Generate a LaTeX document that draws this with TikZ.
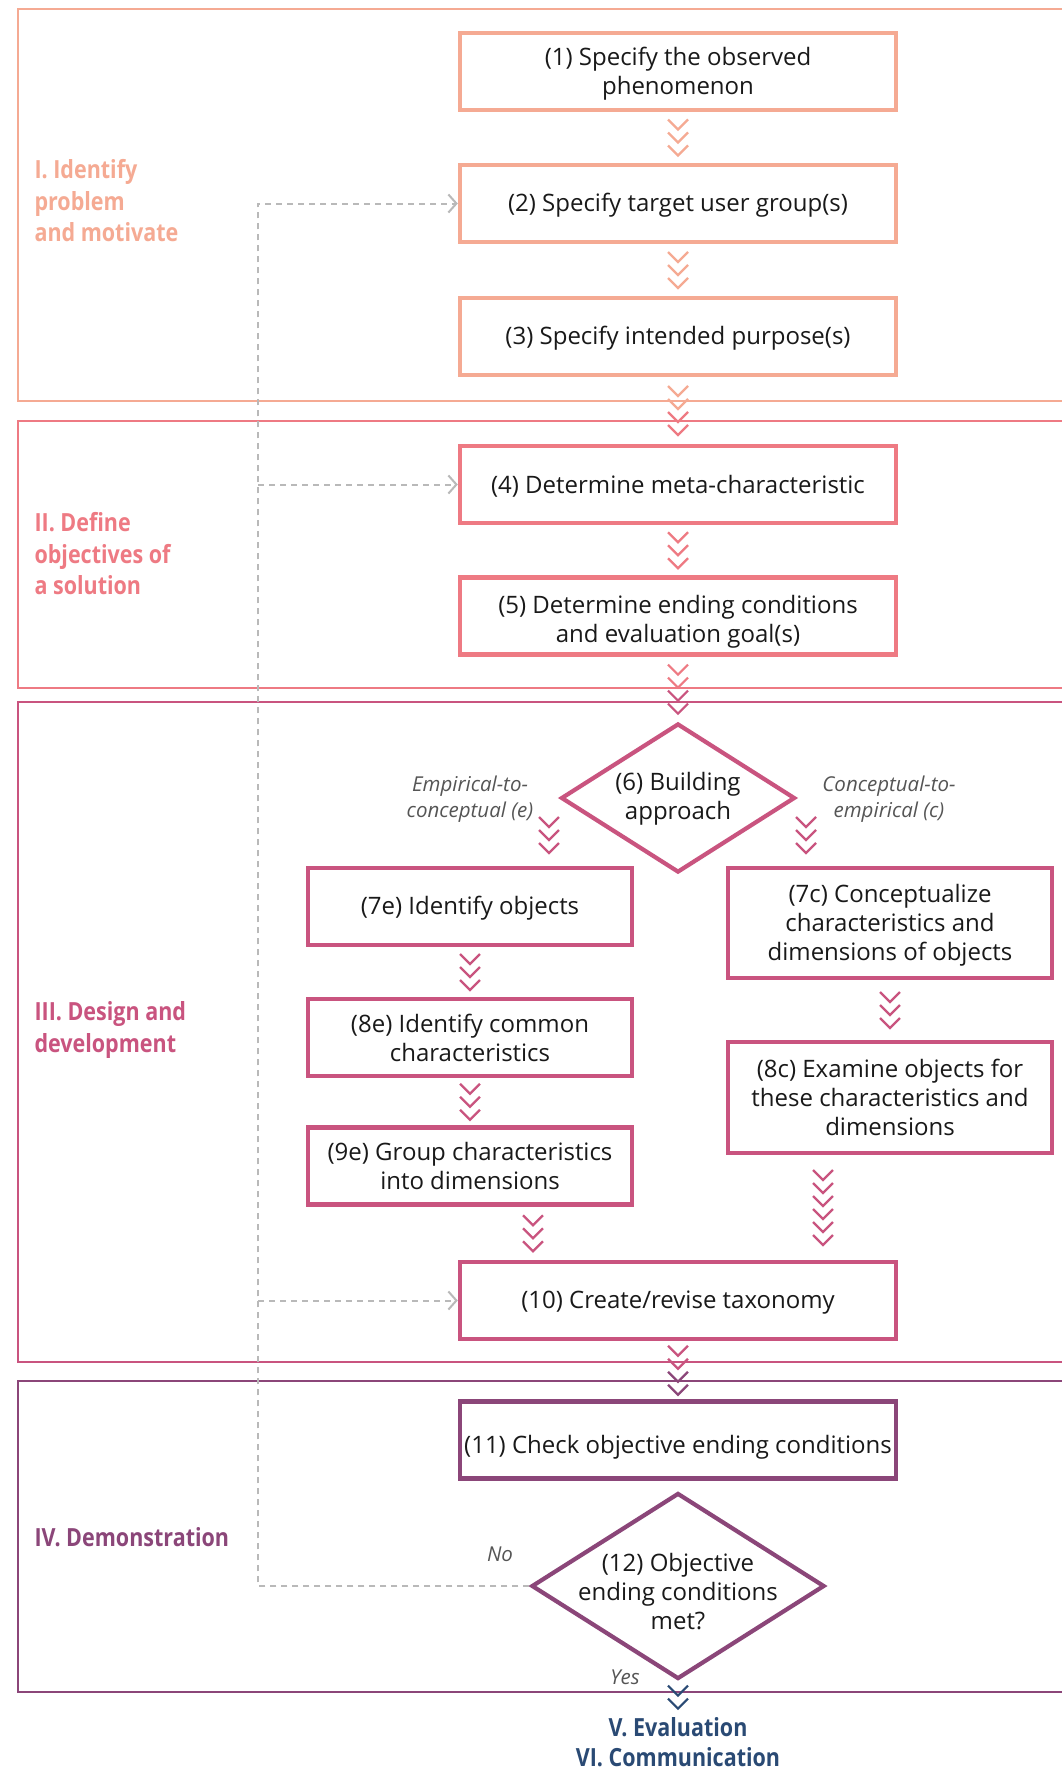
\documentclass[tikz,border=0pt]{standalone}
\usepackage{fontspec}
\setmainfont{Open Sans}
\newfontfamily\condfont[FakeStretch=0.86]{Open Sans}
\usetikzlibrary{calc,arrows.meta,shapes.geometric}
\definecolor{cI}{RGB}{245,170,147}
\definecolor{cII}{RGB}{238,122,131}
\definecolor{cIII}{RGB}{201,84,127}
\definecolor{cIV}{RGB}{139,70,121}
\definecolor{cV}{RGB}{42,74,116}
\definecolor{fbgray}{RGB}{185,185,185}
\definecolor{txt}{RGB}{25,25,25}
\definecolor{itgray}{RGB}{85,85,85}
\newcommand\chevs[3]{%
  \foreach \cc [count=\ii from 0] in {#3} {\pic at ($#1+(0,{(\ii-(#2-1)/2)*13})$) {chev=\cc};}}
\begin{document}
\begin{tikzpicture}[x=1pt,y=-1pt,
  pics/chev/.style={code={\draw[line width=2.2pt,#1,line join=miter] (-10,-5) -- (0,5) -- (10,-5);}},
  phasebox/.style={line width=1.5pt},
  raisetext/.style={execute at begin node={\rule{0pt}{#1}}},
  stepbox/.style={draw=#1,line width=4.5pt,fill=white,minimum width=436pt,minimum height=77pt,
    align=center,text=txt,font=\fontsize{24}{29}\selectfont,inner sep=0pt,raisetext=22pt},
  smallbox/.style={stepbox=#1,minimum width=324pt},
  decbox/.style={draw=#1,line width=4.2pt,shape=diamond,inner sep=0pt,fill=white},
  dectext/.style={align=center,text=txt,font=\fontsize{24}{29}\selectfont},
  phaselabel/.style={anchor=west,align=left,text=#1,font=\condfont\bfseries\fontsize{25}{31.5}\selectfont},
  itlabel/.style={align=center,text=itgray,font=\itshape\fontsize{20.5}{26}\selectfont},
  fb/.style={draw=fbgray,line width=2pt,dash pattern=on 6pt off 5pt},
  fbarrow/.style={fb,-{Straight Barb[length=8pt,width=18pt,line width=2pt]}}
]
\useasboundingbox[fill=white] (0,0) rectangle (1061,1769);
% phase frames
\draw[phasebox,draw=cI] (18,9) rectangle (1075,401);
\draw[phasebox,draw=cII] (18,421) rectangle (1075,688);
\draw[phasebox,draw=cIII] (18,702) rectangle (1075,1362);
\draw[phasebox,draw=cIV] (18,1381) rectangle (1075,1692);
% phase labels
\node[phaselabel=cI] (pI) at (31,201) {I. Identify\\problem\\and motivate};
\node[phaselabel=cII] (pII) at (31,554) {II. Define\\objectives of\\a solution};
\node[phaselabel=cIII] (pIII) at (31,1030) {III. Design and\\development};
\node[phaselabel=cIV] (pIV) at (31,1537) {IV. Demonstration};
% steps
\node[stepbox=cI,raisetext=52pt] (b1) at (678,71.5) {(1) Specify the observed\\phenomenon};
\node[stepbox=cI] (b2) at (678,203.5) {(2) Specify target user group(s)};
\node[stepbox=cI] (b3) at (678,336.5) {(3) Specify intended purpose(s)};
\node[stepbox=cII] (b4) at (678,484.5) {(4) Determine meta-characteristic};
\node[stepbox=cII,raisetext=58pt] (b5) at (678,616) {(5) Determine ending conditions\\and evaluation goal(s)};
\node[decbox=cIII,minimum width=234pt,minimum height=149pt] (d6) at (678,798) {};
\node[dectext] (d6t) at ($(d6.center)+(0,1)$) {(6) Building\\approach};
\node[smallbox=cIII] (b7e) at (470,906.5) {(7e) Identify objects};
\node[smallbox=cIII] (b8e) at (470,1037.5) {(8e) Identify common\\characteristics};
\node[smallbox=cIII] (b9e) at (470,1166) {(9e) Group characteristics\\into dimensions};
\node[smallbox=cIII,minimum height=110pt,raisetext=80pt] (b7c) at (890,923) {(7c) Conceptualize\\characteristics and\\dimensions of objects};
\node[smallbox=cIII,minimum height=111pt] (b8c) at (890,1097.5) {(8c) Examine objects for\\these characteristics and\\dimensions};
\node[stepbox=cIII] (b10) at (678,1300.5) {(10) Create/revise taxonomy};
\node[stepbox=cIV,raisetext=32pt] (b11) at (678,1440) {(11) Check objective ending conditions};
\node[decbox=cIV,minimum width=293pt,minimum height=186pt] (d12) at (678,1586) {};
\node[dectext] (d12t) at ($(d12.center)+(0,6)$) {(12) Objective\\ending conditions\\met?};
% branch labels
\node[itlabel] (le) at (470,799) {Empirical-to-\\conceptual (e)};
\node[itlabel] (lc) at (889,799) {Conceptual-to-\\empirical (c)};
\node[itlabel] (lno) at (500,1554) {No};
\node[itlabel] (lyes) at (625,1677) {Yes};
% outcome
\node[align=center,text=cV,font=\condfont\bfseries\fontsize{25}{30}\selectfont] (out) at (678,1742) {V. Evaluation\\VI. Communication};
% chevron connectors
\chevs{(b1.south)!0.5!(b2.north)}{3}{cI,cI,cI}
\chevs{(b2.south)!0.5!(b3.north)}{3}{cI,cI,cI}
\chevs{(b3.south)!0.5!(b4.north)}{4}{cI,cI,cII,cII}
\chevs{(b4.south)!0.5!(b5.north)}{3}{cII,cII,cII}
\chevs{(b5.south)!0.5!(d6.north)}{4}{cII,cII,cIII,cIII}
\chevs{(d6.center)+(-129,37)}{3}{cIII,cIII,cIII}
\chevs{(d6.center)+(128,37)}{3}{cIII,cIII,cIII}
\chevs{(b7e.south)!0.5!(b8e.north)}{3}{cIII,cIII,cIII}
\chevs{(b8e.south)!0.5!(b9e.north)}{3}{cIII,cIII,cIII}
\chevs{(b9e.south)!0.5!(b9e.south|-b10.north)+(63,0)}{3}{cIII,cIII,cIII}
\chevs{(b7c.south)!0.5!(b8c.north)}{3}{cIII,cIII,cIII}
\chevs{(b8c.south)!0.5!(b8c.south|-b10.north)+(-67,0)}{6}{cIII,cIII,cIII,cIII,cIII,cIII}
\chevs{(b10.south)!0.5!(b11.north)}{4}{cIII,cIII,cIV,cIV}
\chevs{(d12.south)+(0,16)}{2}{cV,cV}
% feedback loop
\coordinate (bus) at (258,0);
\draw[fbarrow] (d12.west) -- (d12.west -| bus) |- (b2.west);
\draw[fbarrow] (b4.west -| bus) -- (b4.west);
\draw[fbarrow] (b10.west -| bus) -- (b10.west);
\end{tikzpicture}
\end{document}
